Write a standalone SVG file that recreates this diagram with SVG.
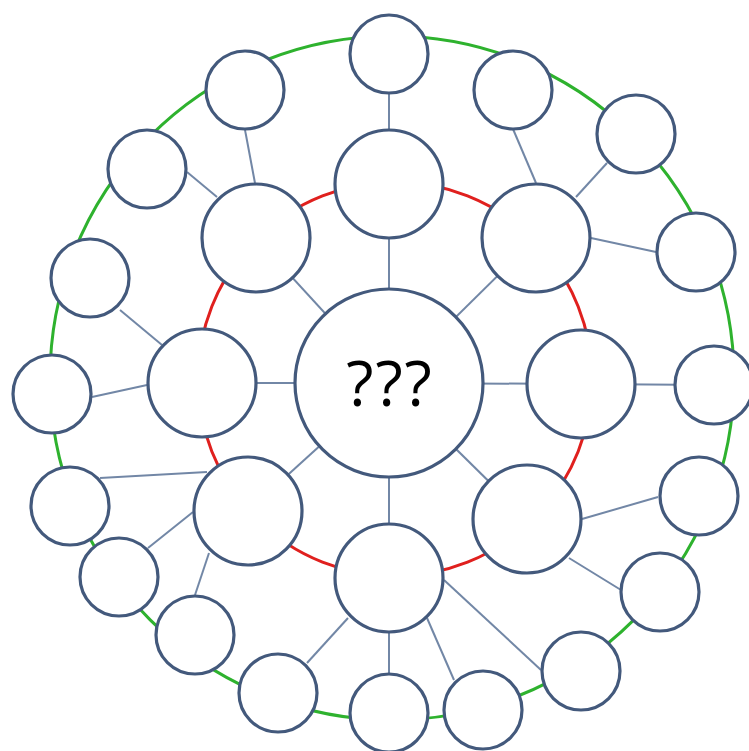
<svg xmlns="http://www.w3.org/2000/svg" width="749" height="751" viewBox="0 0 749 751">
<style>
.ring-o{fill:none;stroke:#2eb22e;stroke-width:3}
.ring-i{fill:none;stroke:#e0201e;stroke-width:3}
.link{stroke:#7287a6;stroke-width:2;fill:none}
.node{fill:#fff;stroke:#43597c;stroke-width:3.2}
.lbl{font-family:"Open Sans","Liberation Sans",sans-serif;font-size:63px;letter-spacing:2px;fill:#000;text-anchor:middle}
</style>
<rect width="749" height="751" fill="#fff"/>
<g id="rings">
<circle class="ring-o" cx="392" cy="378" r="342"/>
<circle class="ring-i" cx="395" cy="379" r="197"/>
</g>
<g id="connectors">
<line class="link" x1="389" y1="383" x2="389" y2="184"/>
<line class="link" x1="389" y1="383" x2="536" y2="238"/>
<line class="link" x1="389" y1="383" x2="581" y2="384"/>
<line class="link" x1="389" y1="383" x2="527" y2="519"/>
<line class="link" x1="389" y1="383" x2="389" y2="578"/>
<line class="link" x1="389" y1="383" x2="248" y2="511"/>
<line class="link" x1="389" y1="383" x2="202" y2="383"/>
<line class="link" x1="389" y1="383" x2="256" y2="238"/>
<line class="link" x1="389" y1="184" x2="389" y2="54"/>
<line class="link" x1="255" y1="183" x2="245" y2="130"/>
<line class="link" x1="217" y1="197" x2="187" y2="172"/>
<line class="link" x1="162" y1="345" x2="120" y2="310"/>
<line class="link" x1="147" y1="385" x2="92" y2="397"/>
<line class="link" x1="207" y1="472" x2="100" y2="478"/>
<line class="link" x1="193" y1="512" x2="148" y2="548"/>
<line class="link" x1="209" y1="553" x2="195" y2="595"/>
<line class="link" x1="348" y1="618" x2="307" y2="663"/>
<line class="link" x1="389" y1="578" x2="389" y2="713"/>
<line class="link" x1="427" y1="618" x2="454" y2="680"/>
<line class="link" x1="444" y1="580" x2="541" y2="670"/>
<line class="link" x1="569" y1="558" x2="621" y2="590"/>
<line class="link" x1="582" y1="519" x2="658" y2="497"/>
<line class="link" x1="581" y1="384" x2="714" y2="385"/>
<line class="link" x1="591" y1="238" x2="656" y2="252"/>
<line class="link" x1="576" y1="197" x2="607" y2="163"/>
<line class="link" x1="536" y1="183" x2="513" y2="129"/>
</g>
<g id="center"><circle class="node" cx="389" cy="383" r="94"/><text class="lbl" x="390" y="406">???</text></g>
<g id="m-top"><circle class="node" cx="389" cy="184" r="54"/></g>
<g id="m-topright"><circle class="node" cx="536" cy="238" r="54"/></g>
<g id="m-right"><circle class="node" cx="581" cy="384" r="54"/></g>
<g id="m-bottomright"><circle class="node" cx="527" cy="519" r="54"/></g>
<g id="m-bottom"><circle class="node" cx="389" cy="578" r="54"/></g>
<g id="m-bottomleft"><circle class="node" cx="248" cy="511" r="54"/></g>
<g id="m-left"><circle class="node" cx="202" cy="383" r="54"/></g>
<g id="m-topleft"><circle class="node" cx="256" cy="238" r="54"/></g>
<g id="o1"><circle class="node" cx="389" cy="54" r="39"/></g>
<g id="o2"><circle class="node" cx="513" cy="90" r="39"/></g>
<g id="o3"><circle class="node" cx="636" cy="134" r="39"/></g>
<g id="o4"><circle class="node" cx="696" cy="252" r="39"/></g>
<g id="o5"><circle class="node" cx="714" cy="385" r="39"/></g>
<g id="o6"><circle class="node" cx="699" cy="496" r="39"/></g>
<g id="o7"><circle class="node" cx="660" cy="592" r="39"/></g>
<g id="o8"><circle class="node" cx="581" cy="671" r="39"/></g>
<g id="o9"><circle class="node" cx="483" cy="710" r="39"/></g>
<g id="o10"><circle class="node" cx="389" cy="713" r="39"/></g>
<g id="o11"><circle class="node" cx="278" cy="693" r="39"/></g>
<g id="o12"><circle class="node" cx="195" cy="635" r="39"/></g>
<g id="o13"><circle class="node" cx="119" cy="577" r="39"/></g>
<g id="o14"><circle class="node" cx="70" cy="506" r="39"/></g>
<g id="o15"><circle class="node" cx="52" cy="394" r="39"/></g>
<g id="o16"><circle class="node" cx="90" cy="278" r="39"/></g>
<g id="o17"><circle class="node" cx="147" cy="169" r="39"/></g>
<g id="o18"><circle class="node" cx="245" cy="90" r="39"/></g>
</svg>
